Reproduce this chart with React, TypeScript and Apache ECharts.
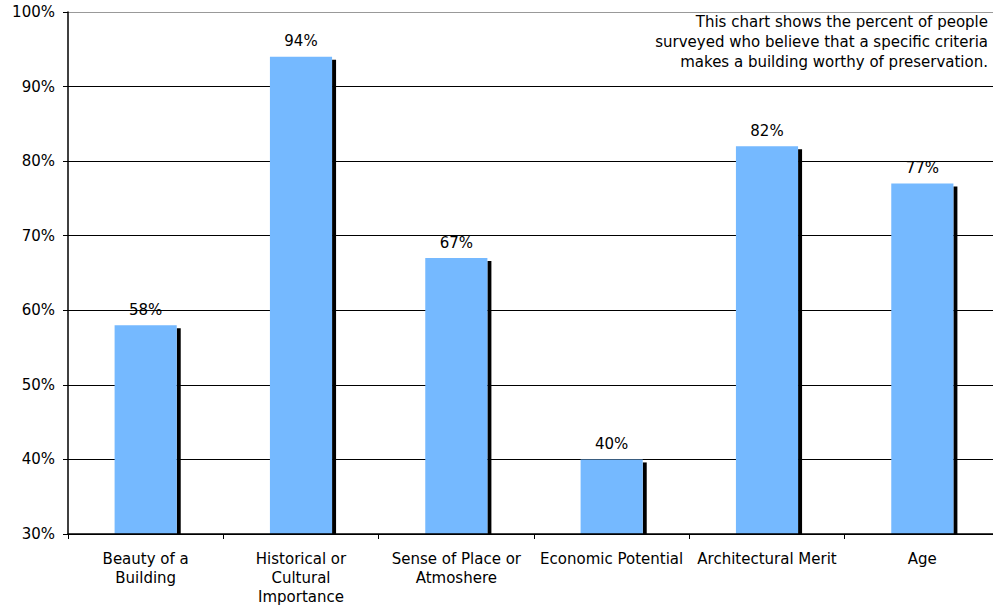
import React, { useEffect, useRef } from "react";
import * as echarts from "echarts";

const categories = [
  "Beauty of a\nBuilding",
  "Historical or\nCultural\nImportance",
  "Sense of Place or\nAtmoshere",
  "Economic Potential",
  "Architectural Merit",
  "Age",
];
const values = [58, 94, 67, 40, 82, 77];
const noteLines = [
  "This chart shows the percent of people",
  "surveyed who believe that a specific criteria",
  "makes a building worthy of preservation.",
];

const FONT = "DejaVu Sans";
const BAR_RATIO = 0.4;

export default function App() {
  const ref = useRef<HTMLDivElement>(null);
  useEffect(() => {
    if (!ref.current) return;
    const chart = echarts.init(ref.current, null, { renderer: "svg" });
    chart.setOption({
      animation: false,
      textStyle: { fontFamily: FONT, color: "#000" },
      grid: { left: 68, top: 12, bottom: 72, width: 932, outerBoundsMode: "none", containLabel: false },
      xAxis: {
        type: "category",
        data: categories,
        z: 5,
        axisLine: { lineStyle: { color: "#000", width: 1.5 } },
        axisTick: { show: true, length: 5, lineStyle: { color: "#000" } },
        axisLabel: { color: "#000", fontSize: 15, fontFamily: FONT, margin: 15, lineHeight: 19, interval: 0 },
      },
      yAxis: {
        type: "value",
        min: 30,
        max: 100,
        interval: 10,
        axisLine: { show: true, lineStyle: { color: "#000", width: 1.5 } },
        axisTick: { show: true, length: 5, lineStyle: { color: "#000" } },
        axisLabel: { color: "#000", fontSize: 15, fontFamily: FONT, margin: 13, formatter: "{value}%" },
        splitLine: {
          show: true,
          lineStyle: { color: ["#000", "#000", "#000", "#000", "#000", "#000", "#000", "#999"], width: 1 },
        },
      },
      series: [
        {
          type: "custom",
          z: 1,
          data: values.map((v, i) => [i, v]),
          renderItem: (params: any, api: any) => {
            const pt = api.coord([api.value(0), api.value(1)]);
            const base = api.coord([api.value(0), 30]);
            const bw = api.size([1, 0])[0] * BAR_RATIO;
            const x = pt[0] + bw / 2;
            return {
              type: "rect",
              shape: { x: x, y: pt[1] + 3, width: 4, height: base[1] - pt[1] - 3 },
              style: { fill: "#000" },
            };
          },
          silent: true,
        },
        {
          type: "bar",
          z: 2,
          data: values,
          barWidth: "40%",
          itemStyle: { color: "#75b9ff" },
          label: {
            show: true,
            position: "top",
            distance: 8,
            formatter: "{c}%",
            color: "#000",
            fontSize: 15,
            fontFamily: FONT,
          },
        },
      ],
      graphic: [
        {
          type: "text",
          x: 988,
          y: 12,
          style: {
            text: noteLines.join("\n"),
            align: "right",
            verticalAlign: "top",
            font: `15px ${FONT}`,
            lineHeight: 20,
            fill: "#000",
          },
        },
      ],
    });
    return () => chart.dispose();
  }, []);
  return (
    <div
      ref={ref}
      style={{ position: "absolute", left: 0, top: 0, width: 993, height: 606, background: "#fff" }}
    />
  );
}
